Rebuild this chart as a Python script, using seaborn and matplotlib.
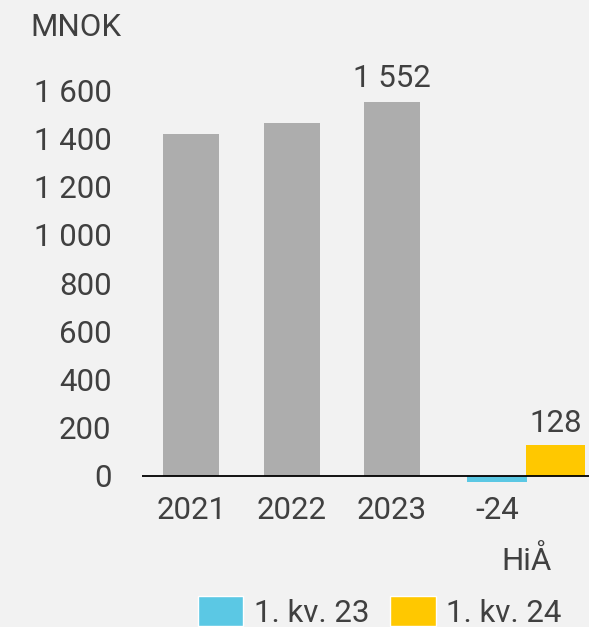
import matplotlib
matplotlib.use('Agg')
import matplotlib.pyplot as plt
import seaborn as sns
import pandas as pd
from matplotlib.patches import Patch

# data
years = ['2021', '2022', '2023']
year_values = [1418, 1462, 1552]
period_label = '-24'
period_sub = 'HiÅ'
series_names = ['1. kv. 23', '1. kv. 24']
series_values = [-24, 128]
y_ticks = [0, 200, 400, 600, 800, 1000, 1200, 1400, 1600]

grey = '#adadad'
blue = '#5bc8e4'
yellow = '#ffc800'
text_col = '#404040'
bg = '#f2f2f2'
fs = 22.5

sns.set_theme(style='white')
plt.rcParams['font.family'] = ['Roboto', 'DejaVu Sans']
plt.rcParams['text.color'] = text_col

fig = plt.figure(figsize=(5.89, 6.27), dpi=100, facecolor=bg)
ax = fig.add_axes([0.241, 0.2026, 0.759, 0.692], facecolor=bg)

year_pos = [0, 1, 2]
hia_pos = [3.045, 3.627]

df_years = pd.DataFrame({'x': year_pos, 'value': year_values})
sns.barplot(data=df_years, x='x', y='value', native_scale=True, width=0.56,
            color=grey, saturation=1, linewidth=0, ax=ax)
for pos, val, col in zip(hia_pos, series_values, [blue, yellow]):
    sns.barplot(x=[pos], y=[val], native_scale=True, width=0.59,
                color=col, saturation=1, linewidth=0, ax=ax)

ax.axhline(0, color='black', lw=1.3, zorder=5)

ax.set_xlim(-0.49, 3.96)
ax.set_ylim(-100, 1700)
ax.set_yticks(y_ticks)
ax.set_yticklabels([f'{v:,}'.replace(',', ' ') for v in y_ticks])
ax.set_xticks(year_pos + [hia_pos[0]])
ax.set_xticklabels(years + [period_label])
ax.tick_params(axis='both', length=0, labelsize=fs, colors=text_col)
ax.tick_params(axis='y', pad=22)
ax.tick_params(axis='x', pad=-3)
ax.set_xlabel('')
ax.set_ylabel('')
sns.despine(ax=ax, left=True, bottom=True)

ax.text((hia_pos[0] + hia_pos[1]) / 2, -0.105, period_sub, transform=ax.get_xaxis_transform(),
        ha='center', va='top', fontsize=fs, color=text_col)

# value labels
ax.annotate('1 552', (2, year_values[2]), xytext=(0, 6), textcoords='offset points',
            ha='center', va='bottom', fontsize=fs, color=text_col)
ax.annotate('128', (hia_pos[1], series_values[1]), xytext=(0, 5), textcoords='offset points',
            ha='center', va='bottom', fontsize=fs, color=text_col)

fig.text(30 / 589, 1 - 27 / 627, 'MNOK', ha='left', va='center', fontsize=fs, color=text_col)

handles = [Patch(facecolor=blue), Patch(facecolor=yellow)]
fig.legend(handles, series_names, loc='center', bbox_to_anchor=(380 / 589, 1 - 612 / 627),
           ncol=2, frameon=False, fontsize=fs, handlelength=1.45, handleheight=1.1,
           handletextpad=0.35, columnspacing=0.65, borderpad=0, labelcolor=text_col)

fig.savefig('out.png', dpi=100, facecolor=bg)
